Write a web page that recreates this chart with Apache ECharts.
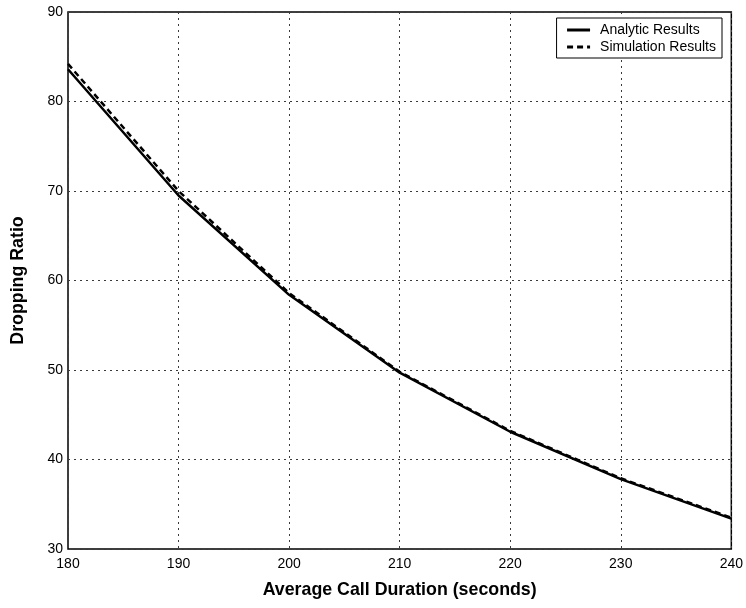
<!DOCTYPE html>
<html>
<head>
<meta charset="utf-8">
<script src="https://cdn.jsdelivr.net/npm/echarts@6/dist/echarts.min.js"></script>
<style>
  html, body { margin: 0; padding: 0; background: #fff; }
  #chart { width: 746px; height: 608px; }
</style>
</head>
<body>
<div id="chart"></div>
<script>
// Average call duration (seconds)
const durations = [180, 190, 200, 210, 220, 230, 240];
// Dropping ratio from the analytic model
const analytic = [83.6, 69.5, 58.4, 49.7, 43.1, 37.8, 33.4];
// Dropping ratio measured in simulation
const simulation = [84.2, 70.0, 58.6, 49.8, 43.2, 37.9, 33.5];

const FONT = '"Liberation Sans", Arial, Helvetica, sans-serif';
const pairs = (ys) => durations.map((x, i) => [x, ys[i]]);

const gridLine = { show: true, lineStyle: { color: '#3a3a3a', width: 1, type: [2, 4] } };

const chart = echarts.init(document.getElementById('chart'), null, { renderer: 'canvas' });
chart.setOption({
  animation: false,
  backgroundColor: '#fff',
  color: ['#000', '#000'],
  grid: {
    left: 68, right: 14, top: 12, bottom: 59,
    show: true, borderColor: '#000', borderWidth: 1.5, backgroundColor: 'transparent'
  },
  xAxis: {
    type: 'value', min: 180, max: 240, interval: 10,
    name: 'Average Call Duration (seconds)',
    nameLocation: 'middle', nameGap: 32,
    nameTextStyle: { fontFamily: FONT, fontSize: 17.8, fontWeight: 'bold', color: '#000' },
    axisLine: { show: false },
    axisTick: { show: false },
    axisLabel: { fontFamily: FONT, fontSize: 14, color: '#000', margin: 8 },
    splitLine: gridLine
  },
  yAxis: {
    type: 'value', min: 30, max: 90, interval: 10,
    name: 'Dropping Ratio',
    nameLocation: 'middle', nameGap: 41,
    nameTextStyle: { fontFamily: FONT, fontSize: 17.8, fontWeight: 'bold', color: '#000' },
    axisLine: { show: false },
    axisTick: { show: false },
    axisLabel: { fontFamily: FONT, fontSize: 14, color: '#000', margin: 5 },
    splitLine: gridLine
  },
  legend: {
    orient: 'vertical',
    right: 24, top: 18,
    padding: [5, 6, 4, 9],
    itemGap: 3,
    itemWidth: 23, itemHeight: 14,
    backgroundColor: '#fff',
    borderColor: '#000', borderWidth: 1,
    itemStyle: { opacity: 0 },
    lineStyle: { width: 3 },
    textStyle: { fontFamily: FONT, fontSize: 14, color: '#000', padding: [0, 0, 0, 5] },
    data: ['Analytic Results', 'Simulation Results']
  },
  series: [
    {
      name: 'Analytic Results', type: 'line', data: pairs(analytic),
      symbol: 'none', z: 3,
      itemStyle: { color: '#000' },
      lineStyle: { color: '#000', width: 2.5, type: 'solid' }
    },
    {
      name: 'Simulation Results', type: 'line', data: pairs(simulation),
      symbol: 'none', z: 4,
      itemStyle: { color: '#000' },
      lineStyle: { color: '#000', width: 2.5, type: [6, 4] }
    }
  ]
});
</script>
</body>
</html>
